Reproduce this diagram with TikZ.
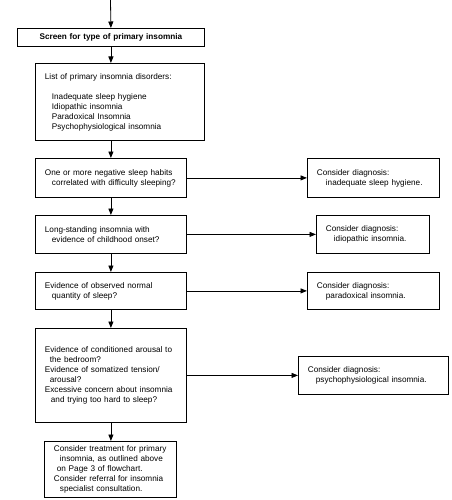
\documentclass[tikz,border=0pt]{standalone}
\usepackage{fontspec}
\setmainfont{Liberation Sans}
\usetikzlibrary{arrows.meta}
\begin{document}
\begin{tikzpicture}[x=1pt,y=-1pt,
  box/.style={draw, line width=0.8pt, anchor=north west, align=left, inner xsep=9.5pt, inner ysep=0pt, font=\fontsize{8.2}{10}\selectfont},
  arr/.style={-{Triangle[length=6.5pt,width=5pt]}, line width=0.8pt}]
\useasboundingbox (0,0) rectangle (451,500);
\newcommand{\ind}{\hspace*{7pt}}
\coordinate (start) at (110.5,0);
\node[box, align=center, font=\bfseries\fontsize{8.2}{10}\selectfont, text width=168pt, minimum height=18pt] (b1) at (17,28) {Screen for type of primary insomnia};
\node[box, text width=150pt, minimum height=77pt] (b2) at (35,63) {List of primary insomnia disorders:\\[10pt]
\ind Inadequate sleep hygiene\\ \ind Idiopathic insomnia\\ \ind Paradoxical Insomnia\\ \ind Psychophysiological insomnia};
\node[box, text width=132pt, minimum height=39pt] (b3) at (35,158) {One or more negative sleep habits\\ \ind correlated with difficulty sleeping?};
\node[box, text width=113pt, minimum height=39pt] (r3) at (307,158) {Consider diagnosis:\\ \hspace*{9pt}inadequate sleep hygiene.};
\node[box, text width=132pt, minimum height=38pt] (b4) at (35,215) {Long-standing insomnia with\\ \ind evidence of childhood onset?};
\node[box, text width=94pt, minimum height=38pt] (r4) at (316,215) {Consider diagnosis:\\ \hspace*{8pt}idiopathic insomnia.};
\node[box, text width=132pt, minimum height=37pt] (b5) at (35,272) {Evidence of observed normal\\ \ind quantity of sleep?};
\node[box, text width=113pt, minimum height=37pt] (r5) at (307,272) {Consider diagnosis:\\ \hspace*{9pt}paradoxical insomnia.};
\node[box, text width=132pt, minimum height=94pt] (b6) at (35,328) {Evidence of conditioned arousal to\\ \hspace*{5pt}the bedroom?\\ Evidence of somatized tension/\\ \hspace*{5pt}arousal?\\ Excessive concern about insomnia\\ \hspace*{6pt}and trying too hard to sleep?};
\node[box, text width=131pt, minimum height=38pt] (r6) at (298,356) {Consider diagnosis:\\ \hspace*{8pt}psychophysiological insomnia.};
\node[box, text width=113pt, minimum height=56pt] (b7) at (44,441) {Consider treatment for primary\\ \hspace*{6pt}insomnia, as outlined above\\ \hspace*{3pt}on Page 3 of flowchart.\\ Consider referral for insomnia\\ \hspace*{6pt}specialist consultation.};
\draw[arr] (start) -- (b1.north);
\draw[arr] (b1.south) -- (b1.south |- b2.north);
\draw[arr] (b3.north |- b2.south) -- (b3.north);
\draw[arr] (b3.south) -- (b4.north);
\draw[arr] (b4.south) -- (b5.north);
\draw[arr] (b5.south) -- (b6.north);
\draw[arr] (b6.south) -- (b6.south |- b7.north);
\draw[arr] (b3.east) -- (r3.west);
\draw[arr] (b4.east) -- (r4.west);
\draw[arr] (b5.east) -- (r5.west);
\draw[arr] (b6.east) -- (r6.west);
\end{tikzpicture}
\end{document}
